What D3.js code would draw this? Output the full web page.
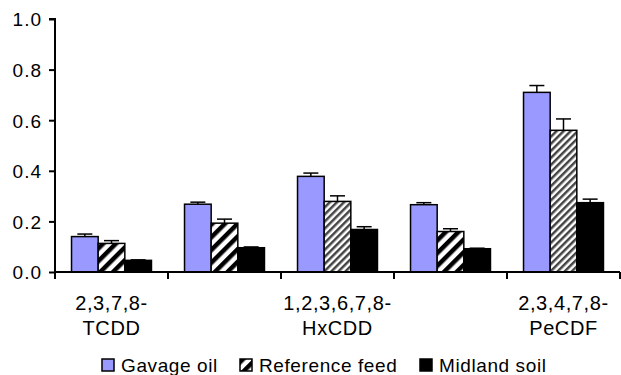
<!DOCTYPE html>
<html>
<head>
<meta charset="utf-8">
<script src="https://cdn.jsdelivr.net/npm/d3@7"></script>
<style>
  body { margin: 0; background: #fff; }
  svg text { font-family: Arial, "Liberation Sans", sans-serif; fill: #000; }
</style>
</head>
<body>
<script>
// congeners on the x axis (only every other one is labelled in the original)
var categories = ['TCDD', 'PeCDD', 'HxCDD', 'TCDF', 'PeCDF'];
var catLabels = [['2,3,7,8-', 'TCDD'], [], ['1,2,3,6,7,8-', 'HxCDD'], [], ['2,3,4,7,8-', 'PeCDF']];
var seriesNames = ['Gavage oil', 'Reference feed', 'Midland soil'];

var gavage = [0.14, 0.268, 0.378, 0.266, 0.71];
var gavageErr = [0.01, 0.008, 0.013, 0.008, 0.027];
var feed = [0.113, 0.193, 0.279, 0.16, 0.56];
var feedErr = [0.011, 0.016, 0.022, 0.011, 0.045];
var soil = [0.046, 0.096, 0.168, 0.092, 0.274];
var soilErr = [0.002, 0.003, 0.011, 0.002, 0.014];

var yTicks = [0, 0.2, 0.4, 0.6, 0.8, 1.0];

var width = 621, height = 375;
var svg = d3.select('body').append('svg')
    .attr('width', width)
    .attr('height', height);

var defs = svg.append('defs');
// coarse black/white hatch
var p1 = defs.append('pattern')
    .attr('id', 'hatchBold')
    .attr('patternUnits', 'userSpaceOnUse')
    .attr('width', 9).attr('height', 9)
    .attr('patternTransform', 'rotate(45)');
p1.append('rect').attr('width', 9).attr('height', 9).attr('fill', '#fff');
p1.append('rect').attr('width', 4.5).attr('height', 9).attr('fill', '#000');
// finer grey hatch
var p2 = defs.append('pattern')
    .attr('id', 'hatchFine')
    .attr('patternUnits', 'userSpaceOnUse')
    .attr('width', 5).attr('height', 5)
    .attr('patternTransform', 'rotate(45)');
p2.append('rect').attr('width', 5).attr('height', 5).attr('fill', '#fff');
p2.append('rect').attr('width', 2.5).attr('height', 5).attr('fill', '#444');

var x = d3.scaleBand()
    .domain(categories)
    .range([55, 620])
    .padding(0);

var sub = d3.scaleBand()
    .domain(seriesNames)
    .range([0, x.bandwidth()])
    .paddingInner(0)
    .paddingOuter(0.62);

var y = d3.scaleLinear()
    .domain([0, 1])
    .range([272, 19]);

var rows = [];
categories.forEach(function(c, i) {
    rows.push({cat: c, i: i, s: seriesNames[0], v: gavage[i], e: gavageErr[i]});
    rows.push({cat: c, i: i, s: seriesNames[1], v: feed[i], e: feedErr[i]});
    rows.push({cat: c, i: i, s: seriesNames[2], v: soil[i], e: soilErr[i]});
});

function fillFor(s, i) {
    if (s == 'Gavage oil') return '#9999ff';
    if (s == 'Midland soil') return '#000';
    return (i == 2 || i == 4) ? 'url(#hatchFine)' : 'url(#hatchBold)';
}

// error bars (upper only)
var eb = svg.append('g').selectAll('g')
    .data(rows)
    .enter().append('g')
    .attr('stroke', '#000')
    .attr('stroke-width', 1.5);
eb.append('line')
    .attr('x1', d => x(d.cat) + sub(d.s) + sub.bandwidth() / 2)
    .attr('x2', d => x(d.cat) + sub(d.s) + sub.bandwidth() / 2)
    .attr('y1', d => y(d.v))
    .attr('y2', d => y(d.v + d.e));
eb.append('line')
    .attr('x1', d => x(d.cat) + sub(d.s) + sub.bandwidth() / 2 - 7.5)
    .attr('x2', d => x(d.cat) + sub(d.s) + sub.bandwidth() / 2 + 7.5)
    .attr('y1', d => y(d.v + d.e))
    .attr('y2', d => y(d.v + d.e));

svg.append('g').selectAll('rect')
    .data(rows)
    .enter().append('rect')
    .attr('x', d => x(d.cat) + sub(d.s))
    .attr('y', d => y(d.v))
    .attr('width', sub.bandwidth())
    .attr('height', d => y(0) - y(d.v))
    .attr('fill', d => fillFor(d.s, d.i))
    .attr('stroke', '#000')
    .attr('stroke-width', 1.5);

// y axis
var yAxis = d3.axisLeft(y)
    .tickValues(yTicks)
    .tickFormat(d3.format('.1f'))
    .tickSize(6)
    .tickPadding(7);
var yg = svg.append('g')
    .attr('transform', 'translate(55,0)')
    .call(yAxis);
yg.select('.domain').attr('stroke-width', 2).attr('d', 'M-6,' + y(1) + 'H0V' + y(0));
yg.selectAll('.tick line').attr('stroke-width', 2);
yg.selectAll('.tick text')
    .style('font-size', '19px')
    .style('letter-spacing', '1px')
    .attr('dy', '0.36em');

// x axis: line plus ticks at band edges
var xg = svg.append('g');
xg.append('line')
    .attr('x1', x.range()[0]).attr('x2', x.range()[1])
    .attr('y1', y(0)).attr('y2', y(0))
    .attr('stroke', '#000').attr('stroke-width', 2);
var edges = categories.map(c => x(c)).concat([x.range()[1]]);
xg.selectAll('.xt')
    .data(edges)
    .enter().append('line')
    .attr('x1', d => d).attr('x2', d => d)
    .attr('y1', y(0)).attr('y2', y(0) + 7)
    .attr('stroke', '#000').attr('stroke-width', 2);

var lab = xg.selectAll('.cl')
    .data(categories)
    .enter().append('text')
    .attr('text-anchor', 'middle')
    .style('font-size', '20px')
    .style('letter-spacing', '0.6px');
lab.selectAll('tspan')
    .data((d, i) => catLabels[i])
    .enter().append('tspan')
    .attr('x', function() { return x(d3.select(this.parentNode).datum()) + x.bandwidth() / 2; })
    .attr('y', (d, j) => 310 + j * 25)
    .text(d => d);

// legend
var legX = [102, 240, 420];
var leg = svg.append('g').selectAll('g')
    .data(seriesNames)
    .enter().append('g')
    .attr('transform', (d, i) => 'translate(' + legX[i] + ',359)');
leg.append('rect')
    .attr('width', 12).attr('height', 12)
    .attr('fill', d => d == 'Reference feed' ? 'url(#hatchBold)' : fillFor(d, 0))
    .attr('stroke', '#000').attr('stroke-width', 1.5);
leg.append('text')
    .attr('x', 19).attr('y', 13)
    .style('font-size', '19px')
    .style('letter-spacing', '0.6px')
    .text(d => d);
</script>
</body>
</html>
